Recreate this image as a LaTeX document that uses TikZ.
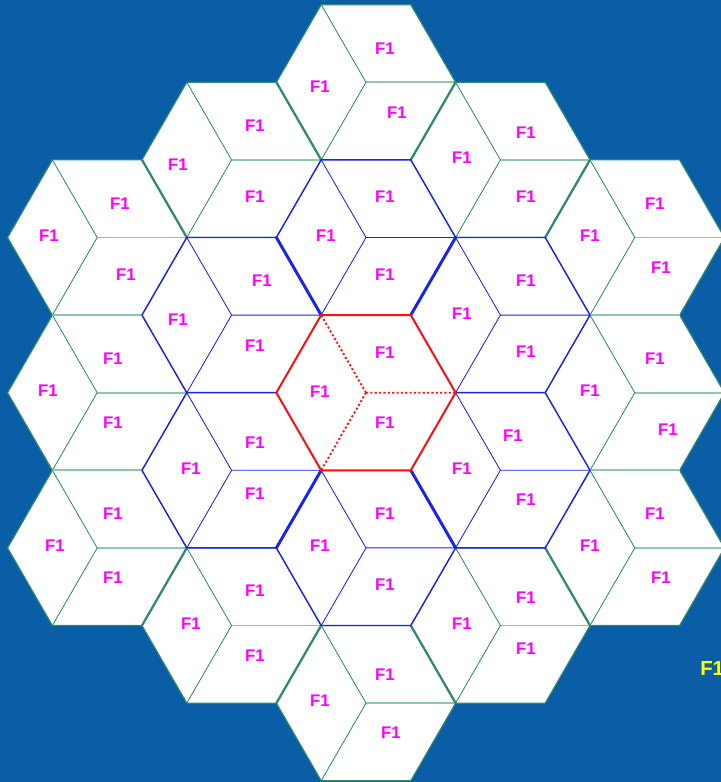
\documentclass[tikz,border=0pt]{standalone}
\usepackage{fontspec}
\setmainfont{Liberation Sans}
\usetikzlibrary{calc}
\definecolor{sea}{HTML}{0A5EA6}
\definecolor{outerline}{HTML}{2E8B6E}
\definecolor{outerpale}{HTML}{8FC8A8}
\definecolor{innerline}{HTML}{1A22EE}
\definecolor{homeline}{HTML}{FF1010}
\definecolor{chan}{HTML}{FF00FF}
\definecolor{spare}{HTML}{FFFF00}

\begin{document}
\begin{tikzpicture}[x=0.025cm,y=-0.025cm,
 lab/.style={text=chan,font=\fontsize{12}{14}\selectfont\bfseries,inner sep=0pt},
 edge2/.style={draw=outerline,line width=0.8pt,line join=round},
 cut2/.style={draw=outerline,line width=0.6pt},
 flat2/.style={draw=outerpale,line width=1.2pt},
 seam2/.style={draw=outerline,line width=1.6pt,line cap=round},
 edge1/.style={draw=innerline,line width=1pt,line join=round},
 cut1/.style={draw=innerline,line width=0.6pt},
 seam1/.style={draw=innerline,line width=2.1pt,line cap=round},
 edge0/.style={draw=homeline,line width=1.4pt,line join=round},
 cut0/.style={draw=homeline,line width=1.3pt,dash pattern=on 1.5pt off 1.6pt}]
\def\R{89.6}
\useasboundingbox (0,0) rectangle (721,782);
\fill[sea] (0,0) rectangle (721,782);
\clip (0,0) rectangle (721,782);
% outer ring
\foreach \cx/\cy [count=\i] in {366/82.3,231.6/159.9,500.4/159.9,97.2/237.5,634.8/237.5,97.2/392.7,
  634.8/392.7,97.2/547.9,634.8/547.9,231.6/625.5,500.4/625.5,366/703.1}{
 \begin{scope}[shift={(\cx,\cy)}]
  \coordinate (a\i) at (0,0);
  \fill[white] (0:\R) \foreach \t in {60,120,...,300}{-- (\t:\R)} -- cycle;
  \draw[flat2] (a\i) -- (0:\R);
  \draw[cut2] (a\i) -- (120:\R) (a\i) -- (240:\R);
  \draw[edge2] (0:\R) \foreach \t in {60,120,...,300}{-- (\t:\R)} -- cycle;
 \end{scope}}
\foreach \p/\q in {a1/a2,a2/a4,a8/a10,a10/a12,a12/a11,a11/a9,a5/a3,a3/a1}
  \draw[seam2] ($(\p)!0.5!(\q)!0.5774!90:(\q)$) -- ($(\p)!0.5!(\q)!0.5774!-90:(\q)$);
\foreach \p/\q in {a4/a6,a6/a8,a9/a7,a7/a5}
  \draw[flat2] ($(\p)!0.5!(\q)!0.5774!90:(\q)$) -- ($(\p)!0.5!(\q)!0.5774!-90:(\q)$);
% first ring
\foreach \cx/\cy [count=\i] in {366/237.5,231.6/315.1,500.4/315.1,231.6/470.3,500.4/470.3,366/547.9}{
 \begin{scope}[shift={(\cx,\cy)}]
  \coordinate (b\i) at (0,0);
  \fill[white] (0:\R) \foreach \t in {60,120,...,300}{-- (\t:\R)} -- cycle;
  \draw[cut1] (b\i) -- (0:\R) (b\i) -- (120:\R) (b\i) -- (240:\R);
  \draw[edge1] (0:\R) \foreach \t in {60,120,...,300}{-- (\t:\R)} -- cycle;
 \end{scope}}
\foreach \p/\q in {b1/b2,b4/b6,b6/b5,b3/b1}
  \draw[seam1] ($(\p)!0.5!(\q)!0.5774!90:(\q)$) -- ($(\p)!0.5!(\q)!0.5774!-90:(\q)$);
% home cell
\begin{scope}[shift={(366,392.7)}]
 \coordinate (c) at (0,0);
 \fill[white] (0:\R) \foreach \t in {60,120,...,300}{-- (\t:\R)} -- cycle;
 \draw[cut0] (c) -- (0:\R) (c) -- (120:\R) (c) -- (240:\R);
 \draw[edge0] (0:\R) \foreach \t in {60,120,...,300}{-- (\t:\R)} -- cycle;
\end{scope}
% sector labels
\foreach \lx/\ly [count=\j] in {385/49,320/87,397/113, 255/126,178/165,255/197, 526/133,462/158,526/197,
  120/204,49/236,126/275, 385/197,326/236,385/275, 655/204,590/236,661/268,
  262/281,178/320,255/346, 526/281,462/314,526/352, 385/353,320/392,385/423,
  113/359,48/391,113/423, 655/359,590/391,668/430, 255/443,191/469,255/494,
  513/436,462/469,526/500, 113/514,55/546,113/578, 385/514,320/546,385/585,
  655/514,590/546,661/578, 255/591,191/624,255/656, 526/598,462/624,526/649,
  385/675,320/701,391/733}
  \node[lab] (f\j) at (\lx,\ly) {F1};
\node[text=spare,font=\fontsize{14.5}{16}\selectfont\bfseries,inner sep=0pt,anchor=west] (spare) at (700,668) {F1};
\end{tikzpicture}
\end{document}
